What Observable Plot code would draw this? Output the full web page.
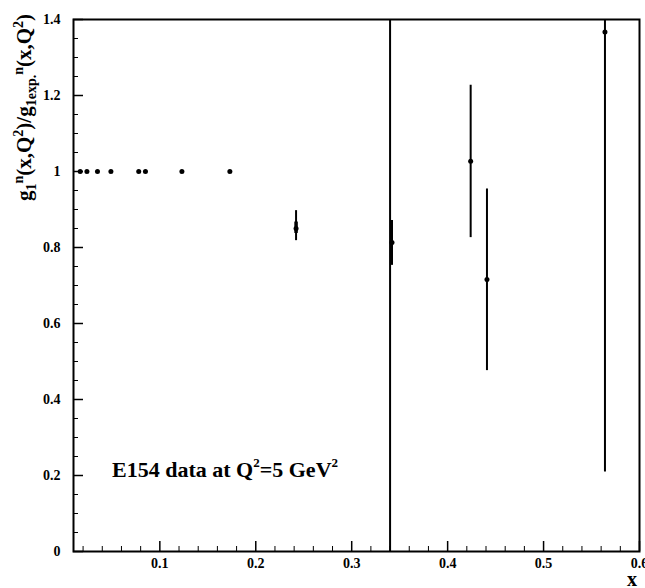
<!DOCTYPE html>
<html><head><meta charset="utf-8">
<script src="https://cdn.jsdelivr.net/npm/d3@7"></script>
<script src="https://cdn.jsdelivr.net/npm/@observablehq/plot@0.6"></script>
<style>body{margin:0;background:#fff} svg{display:block}</style>
</head><body><div id="chart"></div>
<script>
// Points at ratio = 1 (no visible error)
const xUnit = [0.017, 0.024, 0.035, 0.049, 0.078, 0.085, 0.123, 0.173];
const yUnit = [1, 1, 1, 1, 1, 1, 1, 1];
// Points with error bars
const xErr = [0.242, 0.342, 0.424, 0.441, 0.564];
const yErr = [0.850, 0.813, 1.027, 0.716, 1.367];
const errLo = [0.818, 0.753, 0.826, 0.476, 0.209];
const errHi = [0.897, 0.871, 1.227, 0.954, 1.45];
// inner (statistical) part of the first bar
const xStat = [0.242];
const statLo = [0.837];
const statHi = [0.867];
// separator
const sepX = [0.34];
// ticks
const xTicks = [0.1, 0.2, 0.3, 0.4, 0.5, 0.6];
const xTickLabels = ["0.1", "0.2", "0.3", "0.4", "0.5", "0.6"];
const xMinor = [0.02, 0.04, 0.06, 0.08, 0.12, 0.14, 0.16, 0.18, 0.22, 0.24, 0.26, 0.28, 0.32, 0.34, 0.36, 0.38, 0.42, 0.44, 0.46, 0.48, 0.52, 0.54, 0.56, 0.58];
const yTicks = [0, 0.2, 0.4, 0.6, 0.8, 1, 1.2, 1.4];
const yTickLabels = ["0", "0.2", "0.4", "0.6", "0.8", "1", "1.2", "1.4"];
const yMinor = [0.05, 0.1, 0.15, 0.25, 0.3, 0.35, 0.45, 0.5, 0.55, 0.65, 0.7, 0.75, 0.85, 0.9, 0.95, 1.05, 1.1, 1.15, 1.25, 1.3, 1.35];
const annotation = {x: 0.0507, y: 0.195};

const W = 645, H = 588, mL = 73, mR = 6, mT = 19, mB = 37;
const innerW = W - mL - mR, innerH = H - mT - mB;
const font = "'Liberation Serif', 'Times New Roman', serif";

const unitRows = xUnit.map((x, i) => ({x, y: yUnit[i]}));
const errRows = xErr.map((x, i) => ({x, y: yErr[i], lo: errLo[i], hi: Math.min(errHi[i], 1.4)}));
const statRows = xStat.map((x, i) => ({x, lo: statLo[i], hi: statHi[i]}));

const chart = Plot.plot({
  width: W, height: H,
  marginLeft: mL, marginRight: mR, marginTop: mT, marginBottom: mB,
  style: {fontFamily: font, fontWeight: "bold", fontSize: "14px", background: "white", color: "black"},
  x: {domain: [0.01, 0.6]},
  y: {domain: [0, 1.4]},
  marks: [
    Plot.axisX(xTicks, {tickSize: 0, tickPadding: 7, fontSize: 14, fontWeight: "bold",
      tickFormat: d => xTickLabels[xTicks.indexOf(d)], label: null}),
    Plot.axisY(yTicks, {tickSize: 0, tickPadding: 13, fontSize: 14, fontWeight: "bold",
      tickFormat: d => yTickLabels[yTicks.indexOf(d)], label: null}),
    Plot.tickX(xMinor, {x: d => d, insetTop: innerH - 5, strokeWidth: 1}),
    Plot.tickX(xTicks, {x: d => d, insetTop: innerH - 10, strokeWidth: 1.5}),
    Plot.tickY(yMinor, {y: d => d, insetRight: innerW - 5, strokeWidth: 1}),
    Plot.tickY(yTicks, {y: d => d, insetRight: innerW - 10, strokeWidth: 1.5}),
    Plot.ruleX(sepX, {x: d => d, strokeWidth: 2}),
    Plot.ruleX(errRows, {x: "x", y1: "lo", y2: "hi", strokeWidth: 2}),
    Plot.ruleX(statRows, {x: "x", y1: "lo", y2: "hi", strokeWidth: 3.5}),
    Plot.dot(unitRows, {x: "x", y: "y", r: 2.5, fill: "black", stroke: null}),
    Plot.dot(errRows, {x: "x", y: "y", r: 2.5, fill: "black", stroke: null}),
    Plot.frame({strokeWidth: 2})
  ]
});
document.getElementById("chart").append(chart);

const svg = d3.select(chart);
const sx = chart.scale("x"), sy = chart.scale("y");

function rich(sel, parts, base, small, up, down) {
  let off = 0;
  parts.forEach(([s, kind]) => {
    const target = kind === "sup" ? -up : kind === "sub" ? down : 0;
    sel.append("tspan")
      .attr("dy", target - off)
      .attr("font-size", kind ? small : base)
      .text(s);
    off = target;
  });
}

// y-axis title
const yt = svg.append("text")
  .attr("transform", `translate(31,201) rotate(-90)`)
  .attr("text-anchor", "start")
  .attr("font-family", font).attr("font-weight", "bold").attr("fill", "black");
rich(yt, [["g", 0], ["1", "sub"], ["n", "sup"], ["(x,Q", 0], ["2", "sup"], [")/g", 0],
  ["1exp.", "sub"], ["n", "sup"], ["(x,Q", 0], ["2", "sup"], [")", 0]], 21, 14, 8, 5);

// x-axis title
svg.append("text").attr("x", 632).attr("y", 586).attr("text-anchor", "middle")
  .attr("font-family", font).attr("font-weight", "bold").attr("font-size", 20).text("x");

// annotation
const at = svg.append("text")
  .attr("x", sx.apply(annotation.x)).attr("y", sy.apply(annotation.y))
  .attr("text-anchor", "start")
  .attr("font-family", font).attr("font-weight", "bold").attr("fill", "black");
rich(at, [["E154 data at Q", 0], ["2", "sup"], ["=5 GeV", 0], ["2", "sup"]], 22, 13, 10, 0);
</script>
</body></html>
